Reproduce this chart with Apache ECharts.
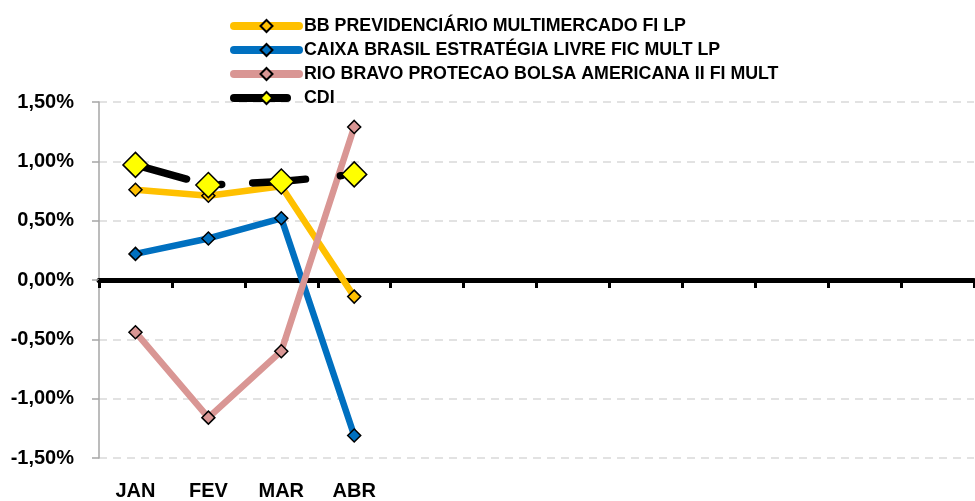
<!DOCTYPE html>
<html>
<head>
<meta charset="utf-8">
<script src="https://cdn.jsdelivr.net/npm/echarts@6/dist/echarts.min.js"></script>
<style>
  html, body { margin: 0; padding: 0; background: #fff; }
  #chart_line { width: 975px; height: 501px; }
</style>
</head>
<body>
<div id="chart_line"></div>
<script>
// meses (só os 4 primeiros têm rótulo)
var months = ['JAN', 'FEV', 'MAR', 'ABR', '', '', '', '', '', '', '', ''];

// rentabilidade mensal em %
var bbPrev = [0.76, 0.71, 0.79, -0.14];
var caixaBrasil = [0.22, 0.35, 0.52, -1.31];
var rioBravo = [-0.44, -1.16, -0.60, 1.29];
var cdi = [0.97, 0.80, 0.83, 0.89];

var names = [
    'BB PREVIDENCIÁRIO MULTIMERCADO FI LP',
    'CAIXA BRASIL ESTRATÉGIA LIVRE FIC MULT LP',
    'RIO BRAVO PROTECAO BOLSA AMERICANA II FI MULT',
    'CDI'
];

var myChart = echarts.init(document.getElementById('chart_line'));
var font = 'Liberation Sans';

function fundSeries(name, values, color) {
    return {
        name: name,
        type: 'line',
        data: values,
        symbol: 'diamond',
        symbolSize: 13,
        lineStyle: { color: color, width: 6.5 },
        itemStyle: { color: color, borderColor: '#000', borderWidth: 1.5 },
        emphasis: { disabled: true }
    };
}

var series = [
    fundSeries(names[0], bbPrev, '#FFC000'),
    fundSeries(names[1], caixaBrasil, '#0070C0'),
    fundSeries(names[2], rioBravo, '#D99694'),
    {
        name: names[3],
        type: 'line',
        data: cdi,
        symbol: 'diamond',
        symbolSize: 25,
        lineStyle: { color: '#000', width: 7.5, type: [53, 35, 1, 31], cap: 'round' },
        itemStyle: { color: '#FFFF00', borderColor: '#000', borderWidth: 1.5 },
        emphasis: { disabled: true }
    }
];

var option = {
    animation: false,
    textStyle: { fontFamily: font },
    legend: {
        orient: 'vertical',
        left: 230,
        top: 17,
        padding: 0,
        itemWidth: 65,
        itemHeight: 15,
        itemGap: 6,
        selectedMode: false,
        data: names,
        lineStyle: { width: 8, cap: 'round' },
        textStyle: { fontFamily: font, fontWeight: 'bold', fontSize: 17.8, color: '#000' }
    },
    grid: { left: 99, right: 1, top: 102, bottom: 43 },
    xAxis: [{
        type: 'category',
        data: months,
        boundaryGap: true,
        axisLine: { onZero: true, lineStyle: { color: '#000', width: 5 } },
        axisTick: { show: true, interval: 0, length: 8, lineStyle: { color: '#000', width: 3 } },
        axisLabel: { show: false },
        splitLine: { show: false }
    }, {
        type: 'category',
        data: months,
        position: 'bottom',
        axisLine: { show: false, onZero: false },
        axisTick: { show: false },
        axisLabel: {
            interval: 0, margin: 23,
            fontFamily: font, fontWeight: 'bold', fontSize: 20, color: '#000'
        }
    }],
    yAxis: {
        type: 'value',
        min: -1.5,
        max: 1.5,
        interval: 0.5,
        axisLine: { show: true, lineStyle: { color: '#A6A6A6', width: 1.5 } },
        axisTick: { show: true, length: 7, lineStyle: { color: '#A6A6A6', width: 1.5 } },
        axisLabel: {
            margin: 25,
            fontFamily: font, fontWeight: 'bold', fontSize: 20, color: '#000',
            formatter: function (v) { return v.toFixed(2).replace('.', ',') + '%'; }
        },
        splitLine: { show: true, lineStyle: { color: '#D9D9D9', width: 1.5, type: [8, 6] } }
    },
    series: series
};

myChart.setOption(option);
window.addEventListener('resize', function () {
    myChart.resize();
});
</script>
</body>
</html>
